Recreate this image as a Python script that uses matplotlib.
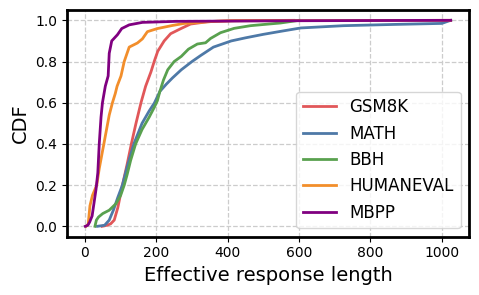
import matplotlib
matplotlib.use("Agg")
import matplotlib.pyplot as plt

# ---- data ----
gsm8k_x = [48, 62, 72, 82, 92, 105, 118, 130, 143, 157, 170, 185, 194, 204, 222, 240, 269, 296, 343, 410, 585]
gsm8k_y = [0.0, 0.005, 0.012, 0.03, 0.09, 0.2, 0.3, 0.4, 0.5, 0.6, 0.68, 0.75, 0.8, 0.85, 0.9, 0.935, 0.96, 0.982, 0.993, 0.998, 1.0]

math_x = [35, 55, 68, 80, 92, 105, 120, 137, 160, 180, 195, 210, 228, 245, 270, 300, 325, 360, 410, 450, 500, 550, 605, 725, 865, 1000, 1025]
math_y = [0.0, 0.005, 0.03, 0.08, 0.14, 0.2, 0.3, 0.4, 0.5, 0.56, 0.6, 0.655, 0.69, 0.72, 0.76, 0.8, 0.83, 0.87, 0.9, 0.915, 0.932, 0.947, 0.963, 0.974, 0.98, 0.985, 1.0]

bbh_x = [28, 32, 38, 50, 68, 87, 100, 110, 118, 128, 142, 160, 180, 195, 203, 210, 220, 232, 250, 270, 290, 315, 338, 352, 380, 418, 464, 515, 548, 580, 600]
bbh_y = [0.0, 0.03, 0.045, 0.062, 0.078, 0.11, 0.15, 0.2, 0.25, 0.32, 0.4, 0.47, 0.53, 0.58, 0.61, 0.655, 0.71, 0.76, 0.8, 0.825, 0.86, 0.885, 0.891, 0.912, 0.94, 0.961, 0.974, 0.982, 0.987, 0.995, 1.0]

humaneval_x = [3, 9, 14, 21, 33, 40, 54, 68, 77, 85, 90, 101, 110, 124, 147, 161, 175, 203, 245, 278, 371, 420, 1025]
humaneval_y = [0.0, 0.01, 0.1, 0.15, 0.2, 0.28, 0.41, 0.54, 0.6, 0.645, 0.68, 0.73, 0.8, 0.87, 0.89, 0.91, 0.945, 0.96, 0.975, 0.985, 0.996, 0.998, 1.0]

mbpp_x = [1, 8, 13, 20, 31, 36, 40, 45, 49, 57, 65, 68, 75, 91, 103, 124, 161, 255, 580, 1025]
mbpp_y = [0.0, 0.005, 0.02, 0.05, 0.18, 0.26, 0.4, 0.53, 0.6, 0.68, 0.73, 0.84, 0.9, 0.93, 0.96, 0.978, 0.99, 0.995, 0.998, 1.0]

labels = ["GSM8K", "MATH", "BBH", "HUMANEVAL", "MBPP"]
colors = ["#e15759", "#4e79a7", "#59a14f", "#f28e2b", "#800080"]
series = [(gsm8k_x, gsm8k_y), (math_x, math_y), (bbh_x, bbh_y),
          (humaneval_x, humaneval_y), (mbpp_x, mbpp_y)]

fig = plt.figure(figsize=(4.79, 2.95), dpi=100)
ax = fig.add_axes([0.14, 0.198, 0.839, 0.768])

for (x, y), lab, c in zip(series, labels, colors):
    ax.plot(x, y, color=c, lw=2, label=lab)

ax.grid(True, linestyle="--", color="#cccccc", lw=0.9)
ax.set_axisbelow(True)
ax.set_xticks([0, 200, 400, 600, 800, 1000])
ax.set_yticks([0.0, 0.2, 0.4, 0.6, 0.8, 1.0])
ax.tick_params(labelsize=10)
ax.set_xlabel("Effective response length", fontsize=14)
ax.set_ylabel("CDF", fontsize=14)
for s in ax.spines.values():
    s.set_linewidth(2)
ax.legend(loc="lower right", fontsize=12)

fig.savefig("out.png", dpi=100)
